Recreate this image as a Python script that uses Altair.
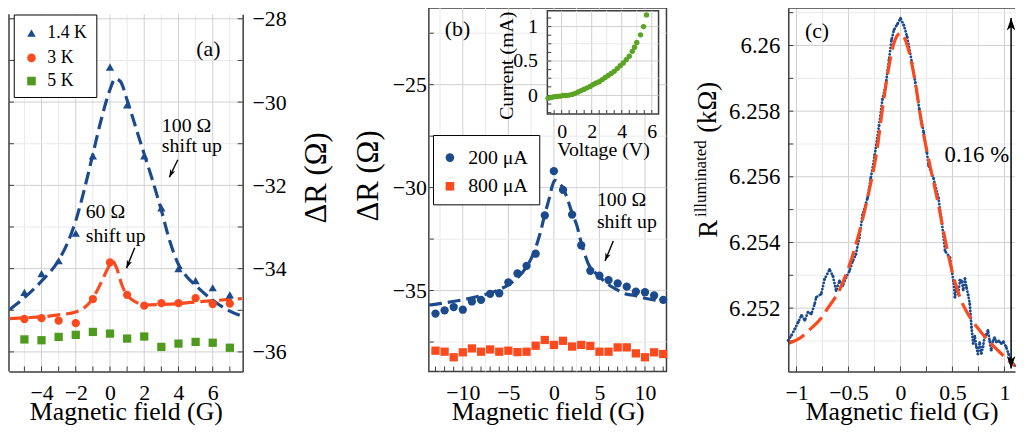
import altair as alt
import pandas as pd

FONT = "Liberation Serif"
BLUE = "#1b4a8d"
RED = "#fb4a1e"
GREEN = "#4f9b1f"
IVGREEN = "#5ca424"
AXC = "#3d3d3d"
GMAJ = "#cfcfcf"
GMIN = "#e9e9e9"
HEAD = "M0,0L0.55,1.6L0,1.15L-0.55,1.6Z"

# ======================= data =======================
# ---- panel (a) ----
a_series = ["1.4 K", "3 K", "5 K"]
a_field = [-5, -4, -3, -2, -1, 0, 1, 2, 3, 4, 5, 6, 7]
a_1p4K = [-34.57, -34.12, -33.81, -33.15, -31.29, -29.16, -30.07, -31.29, -32.54, -34.0, -34.29, -34.46, -34.63]
a_3K = [-35.21, -35.19, -35.25, -35.31, -34.73, -33.85, -34.63, -34.89, -34.83, -34.83, -34.71, -34.85, -34.84]
a_5K = [-35.70, -35.72, -35.64, -35.59, -35.52, -35.56, -35.68, -35.63, -35.88, -35.80, -35.76, -35.78, -35.90]
a_fit1p4_x = [-5.85, -5, -4, -3, -2.5, -2, -1.5, -1, -0.5, 0, 0.3, 0.6, 1, 1.5, 2, 2.5, 3, 3.5, 4, 4.5, 5, 6, 7, 7.7]
a_fit1p4_y = [-34.98, -34.7, -34.3, -33.8, -33.4, -32.85, -32.1, -31.25, -30.4, -29.7, -29.44, -29.5, -29.95,
              -30.6, -31.25, -31.9, -32.6, -33.35, -33.9, -34.2, -34.4, -34.76, -35.02, -35.14]
a_fit3_x = [-5.85, -5, -4, -3, -2, -1.5, -1, -0.5, 0, 0.15, 0.4, 0.7, 1, 1.5, 2, 3, 4, 5, 6, 7, 7.7]
a_fit3_y = [-35.2, -35.18, -35.16, -35.11, -35.04, -34.94, -34.71, -34.32, -33.9, -33.82, -34.0, -34.4,
            -34.63, -34.8, -34.87, -34.86, -34.84, -34.8, -34.77, -34.74, -34.72]
a_xdom = [-5.9, 7.75]
a_ydom = [-36.47, -27.89]
a_xticks = [-5, -4, -3, -2, -1, 0, 1, 2, 3, 4, 5, 6, 7]
a_xlabels = [-4, -2, 0, 2, 4, 6]
a_yticks = [-36, -35, -34, -33, -32, -31, -30, -29, -28]
a_ylabels = [-36, -34, -32, -30, -28]
a_xgrid_minor = [-5, -3, -1, 1, 3, 5, 7]
a_ygrid_minor = [-35, -33, -31, -29]
a_notes_x = [3.03, 3.03, -1.42, -1.42]
a_notes_y = [-30.71, -31.21, -32.79, -33.37]
a_notes_t = ["100 Ω", "shift up", "60 Ω", "shift up"]
a_label = ["(a)", 5.75, -28.72]
a_arrows = [(3.96, -31.385, 3.468, -31.806, 205), (1.445, -33.497, 0.965, -33.988, 202)]

# ---- panel (b) ----
b_series = ["200 μA", "800 μA"]
b_field = [-13, -12, -11, -10, -9, -8, -7, -6, -5, -4, -3, -2, -1, 0, 1, 2, 3, 4, 5, 6, 7, 8, 9, 10, 11, 12]
b_200 = [-36.12, -35.96, -35.8, -35.93, -35.53, -35.45, -35.16, -35.13, -34.6, -34.17, -33.8, -33.21, -31.35,
         -29.2, -30.11, -31.31, -32.8, -34.04, -34.28, -34.49, -34.65, -34.81, -35.05, -35.08, -35.24, -35.45]
b_800 = [-37.92, -37.97, -38.24, -38.0, -37.81, -37.97, -37.86, -37.97, -37.92, -37.99, -37.97, -37.68, -37.4,
         -37.64, -37.44, -37.72, -37.64, -37.69, -37.97, -37.97, -37.76, -37.76, -38.05, -38.24, -38.0, -38.08]
b_fit_x = [-13.7, -12, -10, -8, -6, -5, -4, -3, -2.5, -2, -1.5, -1, -0.5, -0.2, 0.1, 0.5, 0.9, 1.45, 2, 2.55,
           2.9, 3.37, 3.8, 4.35, 5, 5.9, 7, 7.8, 8.86, 10, 11, 12.3]
b_fit_y = [-35.7, -35.6, -35.45, -35.25, -34.95, -34.72, -34.38, -33.85, -33.45, -32.92, -32.2, -31.3, -30.5,
           -29.95, -29.65, -29.75, -29.95, -30.5, -31.24, -31.88, -32.5, -33.2, -33.72, -34.04, -34.33, -34.68,
           -34.98, -35.16, -35.24, -35.37, -35.45, -35.53]
b_xdom = [-13.73, 12.36]
b_ydom = [-38.93, -21.28]
b_xticks = list(range(-13, 13))
b_xlabels = [-10, -5, 0, 5, 10]
b_yticks = [-37.5, -35, -32.5, -30, -27.5, -25, -22.5]
b_ylabels = [-35, -30, -25]
b_xgrid_minor = [-12.5, -7.5, -2.5, 2.5, 7.5]
b_ygrid_minor = [-37.5, -32.5, -27.5, -22.5]
b_notes_x = [4.72, 4.72]
b_notes_y = [-30.87, -31.96]
b_notes_t = ["100 Ω", "shift up"]
b_label = ["(b)", -10.58, -22.29]
b_arrows = [(6.52, -32.596, 5.62, -33.558, 202)]

# ---- inset of (b): I-V curve ----
iv_volt = [-0.9, -0.7, -0.5, -0.3, -0.1, 0.1, 0.3, 0.5, 0.7, 0.9, 1.1, 1.3, 1.5, 1.7, 1.9, 2.1, 2.3, 2.5, 2.7,
           2.9, 3.1, 3.3, 3.5, 3.7, 3.9, 4.1, 4.3, 4.5, 4.7, 4.85, 5.0, 5.25, 5.45, 5.65]
iv_curr = [-0.04, -0.03, -0.02, -0.015, -0.01, 0.0, 0.0, 0.005, 0.015, 0.03, 0.05, 0.07, 0.09, 0.11, 0.13, 0.16,
           0.18, 0.2, 0.23, 0.26, 0.29, 0.32, 0.35, 0.39, 0.43, 0.47, 0.52, 0.57, 0.64, 0.7, 0.77, 0.88, 1.0, 1.17]
iv_xdom = [-0.95, 6.45]
iv_ydom = [-0.27, 1.23]
iv_xticks = [-0.5, 0, 0.5, 1, 1.5, 2, 2.5, 3, 3.5, 4, 4.5, 5, 5.5, 6]
iv_xlabels = [0, 2, 4, 6]
iv_yticks = [-0.25, -0.125, 0, 0.125, 0.25, 0.375, 0.5, 0.625, 0.75, 0.875, 1, 1.125]
iv_ylabels = [0, 0.5, 1]
iv_xgrid_minor = [1, 3, 5]
iv_ygrid_minor = [0.25, 0.75]

# ---- panel (c) ----
c_field = [-1.079, -1.048, -1.015, -0.984, -0.952, -0.92, -0.889, -0.857, -0.825, -0.81, -0.762, -0.73, -0.682,
           -0.65, -0.619, -0.587, -0.555, -0.524, -0.491, -0.46, -0.429, -0.396, -0.365, -0.317, -0.286, -0.248,
           -0.206, -0.174, -0.143, -0.11, -0.086, -0.063, -0.03, 0.0, 0.032, 0.064, 0.111, 0.143, 0.181, 0.223,
           0.254, 0.27, 0.318, 0.366, 0.397, 0.429, 0.476, 0.509, 0.524, 0.54, 0.556, 0.572, 0.588, 0.604, 0.62,
           0.635, 0.651, 0.667, 0.683, 0.699, 0.715, 0.73, 0.745, 0.762, 0.778, 0.794, 0.81, 0.826, 0.842, 0.858,
           0.873, 0.89, 0.905, 0.921, 0.945, 0.969, 0.99, 1.016, 1.04, 1.064, 1.085, 1.1]
c_R = [6.25102, 6.25117, 6.25137, 6.25157, 6.25178, 6.25163, 6.25188, 6.25182, 6.25213, 6.25233, 6.25243,
       6.25288, 6.25318, 6.25298, 6.25253, 6.25283, 6.25268, 6.25293, 6.25313, 6.25343, 6.25363, 6.25414,
       6.25484, 6.25535, 6.25595, 6.25665, 6.25756, 6.25836, 6.25876, 6.25957, 6.26017, 6.26047, 6.26065,
       6.26083, 6.26062, 6.26027, 6.25947, 6.25887, 6.25806, 6.25736, 6.25675, 6.25635, 6.25595, 6.25535,
       6.25464, 6.25374, 6.25354, 6.25283, 6.25233, 6.25265, 6.25243, 6.25285, 6.25283, 6.25255, 6.25290,
       6.25263, 6.25240, 6.25213, 6.25142, 6.25092, 6.25115, 6.25082, 6.25060, 6.25095, 6.25062, 6.25082,
       6.25115, 6.25120, 6.25132, 6.25100, 6.25072, 6.25100, 6.25110, 6.25097, 6.25100, 6.25092, 6.25098,
       6.25082, 6.25060, 6.25042, 6.25030, 6.25025]
c_fit_x = [-1.075, -0.952, -0.889, -0.762, -0.698, -0.587, -0.492, -0.397, -0.317, -0.222, -0.174, -0.11, -0.063,
           0.0, 0.032, 0.086, 0.143, 0.207, 0.27, 0.366, 0.429, 0.492, 0.572, 0.667, 0.762, 0.873, 1.0, 1.095]
c_fit_y = [6.25093, 6.25112, 6.25130, 6.25170, 6.25200, 6.25255, 6.25330, 6.25430, 6.25535, 6.25690, 6.25806,
           6.25937, 6.26007, 6.26037, 6.26027, 6.25977, 6.25887, 6.25756, 6.25655, 6.25514, 6.25410, 6.25318,
           6.25233, 6.25173, 6.25132, 6.25092, 6.25052, 6.25024]
c_xdom = [-1.079, 1.102]
c_ydom = [6.25007, 6.26114]
c_xticks = [-1, -0.75, -0.5, -0.25, 0, 0.25, 0.5, 0.75, 1]
c_xlabels = [-1, -0.5, 0, 0.5, 1]
c_yticks = [6.251, 6.252, 6.253, 6.254, 6.255, 6.256, 6.257, 6.258, 6.259, 6.26, 6.261]
c_ylabels = [6.252, 6.254, 6.256, 6.258, 6.26]
c_xgrid_minor = [-0.75, -0.25, 0.25, 0.75]
c_ygrid_minor = [6.251, 6.253, 6.255, 6.257, 6.259, 6.261]
c_note = ["0.16 %", 1.045, 6.25646]
c_label = ["(c)", -0.803, 6.26044]
c_arrow = [1.064, 6.25016, 6.26084]

H = 367
XTITLE = dict(titleFontSize=26, titleY=49, titleBaseline="alphabetic")


# ======================= helpers =======================
def scale(dom, rng=None):
    if rng is None:
        return alt.Scale(domain=dom, nice=False, zero=False, padding=0)
    return alt.Scale(domain=dom, range=rng, nice=False, zero=False, padding=0)


def axis(orient, values, size=22, pad=10, fmt="~g", **kw):
    d = dict(orient=orient, values=values, ticks=False, tickSize=0, domain=False, grid=False,
             labelFont=FONT, labelFontSize=size, labelColor="black", labelPadding=pad,
             labelOverlap=False, labelFlush=False, format=fmt, titleFont=FONT, titleFontWeight="normal",
             titleColor="black", titleLimit=500, zindex=1, title=None)
    d.update(kw)
    return alt.Axis(**d)


def vrules(vals, xs, ys, lo, hi, color, width=1):
    df = pd.DataFrame({"v": vals, "lo": [lo] * len(vals), "hi": [hi] * len(vals)})
    return alt.Chart(df).mark_rule(color=color, strokeWidth=width).encode(
        x=alt.X("v:Q", scale=xs, axis=None),
        y=alt.Y("lo:Q", scale=ys, axis=None), y2="hi:Q")


def hrules(vals, xs, ys, lo, hi, color, width=1):
    df = pd.DataFrame({"v": vals, "lo": [lo] * len(vals), "hi": [hi] * len(vals)})
    return alt.Chart(df).mark_rule(color=color, strokeWidth=width).encode(
        y=alt.Y("v:Q", scale=ys, axis=None),
        x=alt.X("lo:Q", scale=xs, axis=None), x2="hi:Q")


def xticks(vals, at, xs, ys, size=5):
    df = pd.DataFrame({"v": vals, "at": [at] * len(vals)})
    return alt.Chart(df).mark_tick(orient="vertical", size=size, thickness=1, color=AXC, opacity=1,
                                   yOffset=-size / 2).encode(
        x=alt.X("v:Q", scale=xs, axis=None), y=alt.Y("at:Q", scale=ys, axis=None))


def yticks(vals, at, xs, ys, size=5, right=True):
    df = pd.DataFrame({"v": vals, "at": [at] * len(vals)})
    return alt.Chart(df).mark_tick(orient="horizontal", size=size, thickness=1, color=AXC, opacity=1,
                                   xOffset=(size / 2 if right else -size / 2)).encode(
        y=alt.Y("v:Q", scale=ys, axis=None), x=alt.X("at:Q", scale=xs, axis=None))


def curve(xv, yv, xs, ys, color, dash, width=3.2):
    df = pd.DataFrame({"x": xv, "y": yv})
    return alt.Chart(df).mark_line(color=color, strokeWidth=width, strokeDash=dash,
                                   interpolate="monotone").encode(
        x=alt.X("x:Q", scale=xs, axis=None), y=alt.Y("y:Q", scale=ys, axis=None))


def points(xv, yv, xs, ys, shape, color, size=70, xaxis=None, yaxis=None):
    df = pd.DataFrame({"x": xv, "y": yv})
    return alt.Chart(df).mark_point(shape=shape, filled=True, color=color, size=size, opacity=1,
                                    strokeWidth=0).encode(
        x=alt.X("x:Q", scale=xs, axis=xaxis), y=alt.Y("y:Q", scale=ys, axis=yaxis))


def texts(xv, yv, tv, xs, ys, **mk):
    df = pd.DataFrame({"x": xv, "y": yv, "t": tv})
    return alt.Chart(df).mark_text(font=FONT, color="black", **mk).encode(
        x=alt.X("x:Q", scale=xs, axis=None), y=alt.Y("y:Q", scale=ys, axis=None), text="t:N")


def arrow(x0, y0, x1, y1, ang, size, xs, ys):
    shaft = alt.Chart(pd.DataFrame({"x": [x0], "y": [y0], "x2": [x1], "y2": [y1]})).mark_rule(
        color="black", strokeWidth=1.4).encode(
        x=alt.X("x:Q", scale=xs, axis=None), y=alt.Y("y:Q", scale=ys, axis=None), x2="x2:Q", y2="y2:Q")
    head = alt.Chart(pd.DataFrame({"x": [x1], "y": [y1]})).mark_point(
        shape=HEAD, filled=True, color="black", opacity=1, size=size, angle=ang, strokeWidth=0).encode(
        x=alt.X("x:Q", scale=xs, axis=None), y=alt.Y("y:Q", scale=ys, axis=None))
    return [shaft, head]


def legend(box, entries, fsize, sx, tx):
    one = pd.DataFrame({"t": [""]})
    out = [alt.Chart(one).mark_rect(fill="white", stroke="black", strokeWidth=1).encode(
        x=alt.value(box[0]), x2=alt.value(box[2]), y=alt.value(box[1]), y2=alt.value(box[3]))]
    for label, shape, color, sy in entries:
        out.append(alt.Chart(one).mark_point(shape=shape, filled=True, color=color, size=75, opacity=1,
                                             strokeWidth=0).encode(x=alt.value(sx), y=alt.value(sy)))
        out.append(alt.Chart(pd.DataFrame({"t": [label]})).mark_text(
            font=FONT, fontSize=fsize, align="left", baseline="middle", color="black").encode(
            x=alt.value(tx), y=alt.value(sy), text="t:N"))
    return out


def indep(*layers):
    return alt.layer(*layers).resolve_axis(x="independent", y="independent")


# ======================= panel (a) =======================
xa = scale(a_xdom, [0, 236])
ya = scale(a_ydom, [H, 6.2])

a_bottom = axis("bottom", a_xlabels, pad=28, fmt="d", labelBaseline="alphabetic", title="Magnetic field (G)",
                domain=True, domainColor=AXC, domainWidth=1.5, **XTITLE)
a_right = axis("right", a_ylabels, pad=9.5, fmt="d", offset=-65, title="ΔR (Ω)", titleFontSize=31,
               titleAngle=270, titleX=84, titleY=171, titleBaseline="alphabetic", titleAlign="center",
               domain=True, domainColor=AXC, domainWidth=1.5)

a_layers = [
    vrules(a_xgrid_minor, xa, ya, a_ydom[0], a_ydom[1], GMIN),
    vrules(a_xlabels, xa, ya, a_ydom[0], a_ydom[1], GMAJ),
    hrules(a_ygrid_minor, xa, ya, a_xdom[0], a_xdom[1], GMIN),
    hrules(a_ylabels, xa, ya, a_xdom[0], a_xdom[1], GMAJ),
    vrules([a_xdom[0]], xa, ya, a_ydom[0], a_ydom[1], AXC, width=1.5),
    yticks(a_yticks, a_xdom[0], xa, ya, right=True),
    yticks(a_yticks, a_xdom[1], xa, ya, right=False),
    xticks(a_xticks, a_ydom[0], xa, ya),
    curve(a_fit3_x, a_fit3_y, xa, ya, RED, [13, 6]),
    curve(a_fit1p4_x, a_fit1p4_y, xa, ya, BLUE, [13, 6]),
    points(a_field, a_5K, xa, ya, "square", GREEN),
    points(a_field, a_3K, xa, ya, "circle", RED),
    points(a_field, a_1p4K, xa, ya, "triangle-up", BLUE, xaxis=a_bottom, yaxis=a_right),
    texts(a_notes_x, a_notes_y, a_notes_t, xa, ya, align="left", baseline="alphabetic", fontSize=20),
    texts([a_label[1]], [a_label[2]], [a_label[0]], xa, ya, align="center", baseline="middle", fontSize=22),
]
for (x0, y0, x1, y1, ang) in a_arrows:
    a_layers += arrow(x0, y0, x1, y1, ang, 100, xa, ya)
a_layers += legend((5.3, 7, 88.7, 90.3),
                   [(a_series[0], "triangle-up", BLUE, 25.3), (a_series[1], "circle", RED, 50.3),
                    (a_series[2], "square", GREEN, 73.7)], 18, 22.7, 38.7)

a_chart = indep(*a_layers).properties(width=301, height=H, view=alt.ViewBackground(stroke="transparent"))

# ======================= panel (b) =======================
xb = scale(b_xdom)
yb = scale(b_ydom)
b_bottom = axis("bottom", b_xlabels, pad=28, fmt="d", labelBaseline="alphabetic", title="Magnetic field (G)",
                **XTITLE)
b_left = axis("left", b_ylabels, pad=2.5, fmt="d", title="ΔR (Ω)", titleFontSize=31, titleAngle=270,
              titleX=-52, titleY=169, titleBaseline="alphabetic", titleAlign="center")
b_layers = [
    vrules(b_xgrid_minor, xb, yb, b_ydom[0], b_ydom[1], GMIN),
    vrules(b_xlabels, xb, yb, b_ydom[0], b_ydom[1], GMAJ),
    hrules(b_ygrid_minor, xb, yb, b_xdom[0], b_xdom[1], GMIN),
    hrules(b_ylabels, xb, yb, b_xdom[0], b_xdom[1], GMAJ),
    yticks(b_yticks, b_xdom[0], xb, yb, right=True),
    xticks(b_xticks, b_ydom[0], xb, yb),
    points(b_field, b_800, xb, yb, "square", RED),
    points(b_field, b_200, xb, yb, "circle", BLUE, xaxis=b_bottom, yaxis=b_left),
    curve(b_fit_x, b_fit_y, xb, yb, BLUE, [13, 6]),
    texts(b_notes_x, b_notes_y, b_notes_t, xb, yb, align="left", baseline="alphabetic", fontSize=20),
    texts([b_label[1]], [b_label[2]], [b_label[0]], xb, yb, align="center", baseline="middle", fontSize=22),
]
for (x0, y0, x1, y1, ang) in b_arrows:
    b_layers += arrow(x0, y0, x1, y1, ang, 100, xb, yb)
b_layers += legend((4.7, 128.7, 112, 198.7),
                   [(b_series[0], "circle", BLUE, 151), (b_series[1], "square", RED, 180)], 20, 21.3, 39.7)

# inset
xi = scale(iv_xdom, [119.7, 232])
yi = scale(iv_ydom, [107, 2.7])
iv_bottom = axis("bottom", iv_xlabels, size=20, pad=23.5, labelBaseline="alphabetic", offset=-260,
                 title="Voltage (V)", titleFontSize=20, titleY=42, titleBaseline="alphabetic")
iv_left = axis("left", iv_ylabels, size=20, pad=10, offset=-119.7,
               title="Current (mA)", titleFontSize=20, titleAngle=270, titleX=-35, titleY=57.7,
               titleBaseline="alphabetic", titleAlign="center")
frame = alt.Chart(pd.DataFrame({"x": [iv_xdom[0]], "x2": [iv_xdom[1]], "y": [iv_ydom[0]], "y2": [iv_ydom[1]]})
                  ).mark_rect(fill="white", stroke=AXC, strokeWidth=1.5).encode(
    x=alt.X("x:Q", scale=xi, axis=None), x2="x2:Q", y=alt.Y("y:Q", scale=yi, axis=None), y2="y2:Q")
iv_pts = alt.Chart(pd.DataFrame({"v": iv_volt, "i": iv_curr})).mark_circle(
    size=30, color=IVGREEN, opacity=1).encode(
    x=alt.X("v:Q", scale=xi, axis=iv_bottom), y=alt.Y("i:Q", scale=yi, axis=iv_left))
inset_layers = [
    frame,
    vrules(iv_xgrid_minor, xi, yi, iv_ydom[0], iv_ydom[1], GMIN),
    vrules(iv_xlabels, xi, yi, iv_ydom[0], iv_ydom[1], GMAJ),
    hrules(iv_ygrid_minor, xi, yi, iv_xdom[0], iv_xdom[1], GMIN),
    hrules(iv_ylabels, xi, yi, iv_xdom[0], iv_xdom[1], GMAJ),
    yticks(iv_yticks, iv_xdom[0], xi, yi, size=4, right=True),
    xticks(iv_xticks, iv_ydom[0], xi, yi, size=4),
    iv_pts,
]

b_chart = alt.layer(indep(*b_layers), indep(*inset_layers)).resolve_scale(
    x="independent", y="independent").properties(
    width=240, height=H, view=alt.ViewBackground(stroke=AXC, strokeWidth=1.5))

# ======================= panel (c) =======================
xc = scale(c_xdom)
yc = scale(c_ydom)
c_bottom = axis("bottom", c_xlabels, pad=28, labelBaseline="alphabetic", title="Magnetic field (G)",
                domain=True, domainColor=AXC, domainWidth=1.5, **XTITLE)
c_left = axis("left", c_ylabels, size=23, pad=8.5, domain=True, domainColor=AXC, domainWidth=1.5)

c_df = pd.DataFrame({"x": c_field, "y": c_R})
c_line = alt.Chart(c_df).mark_line(color=BLUE, strokeWidth=2.8, strokeDash=[0.1, 3.2], strokeCap="round").encode(
    x=alt.X("x:Q", scale=xc, axis=c_bottom), y=alt.Y("y:Q", scale=yc, axis=c_left))
c_dots = alt.Chart(c_df).mark_circle(size=8, color=BLUE, opacity=1).encode(
    x=alt.X("x:Q", scale=xc, axis=None), y=alt.Y("y:Q", scale=yc, axis=None))


def ytitle_piece(t, x, y, size):
    return alt.Chart(pd.DataFrame({"t": [t]})).mark_text(
        font=FONT, fontSize=size, angle=270, align="left", baseline="alphabetic", color="black").encode(
        x=alt.value(x), y=alt.value(y), text="t:N")


c_layers = [
    vrules(c_xgrid_minor, xc, yc, c_ydom[0], c_ydom[1], GMIN),
    vrules(c_xlabels, xc, yc, c_ydom[0], c_ydom[1], GMAJ),
    hrules(c_ygrid_minor, xc, yc, c_xdom[0], c_xdom[1], GMIN),
    hrules(c_ylabels, xc, yc, c_xdom[0], c_xdom[1], GMAJ),
    hrules([c_ydom[1]], xc, yc, c_xdom[0], c_xdom[1], AXC, width=1.5),
    yticks(c_yticks, c_xdom[0], xc, yc, right=True),
    xticks(c_xticks, c_ydom[0], xc, yc),
    c_line,
    c_dots,
    curve(c_fit_x, c_fit_y, xc, yc, RED, [18, 7], width=3.2),
    texts([c_note[1]], [c_note[2]], [c_note[0]], xc, yc, align="right", baseline="alphabetic", fontSize=23),
    texts([c_label[1]], [c_label[2]], [c_label[0]], xc, yc, align="center", baseline="middle", fontSize=22),
    ytitle_piece("R", -72, 232, 27),
    ytitle_piece("illuminated", -83, 211, 17),
    ytitle_piece("(kΩ)", -73, 126, 27),
]
shaft_c = alt.Chart(pd.DataFrame({"x": [c_arrow[0]], "y": [c_arrow[1]], "y2": [c_arrow[2]]})).mark_rule(
    color="black", strokeWidth=1.5).encode(
    x=alt.X("x:Q", scale=xc, axis=None), y=alt.Y("y:Q", scale=yc, axis=None), y2="y2:Q")
c_layers.append(shaft_c)
for yy, ang in [(c_arrow[2], 0), (c_arrow[1], 180)]:
    c_layers.append(alt.Chart(pd.DataFrame({"x": [c_arrow[0]], "y": [yy]})).mark_point(
        shape=HEAD, filled=True, color="black", opacity=1, size=250, angle=ang, strokeWidth=0, clip=True).encode(
        x=alt.X("x:Q", scale=xc, axis=None), y=alt.Y("y:Q", scale=yc, axis=None)))

c_chart = indep(*c_layers).properties(width=229, height=H, view=alt.ViewBackground(stroke="transparent"))

chart = alt.hconcat(a_chart, b_chart, c_chart, spacing=123, bounds="flush").properties(
    padding={"left": -6, "top": -4, "right": -4, "bottom": 0}).configure(font=FONT, padding=0)

chart.save("out.html", embed_options={"renderer": "svg", "actions": False})
